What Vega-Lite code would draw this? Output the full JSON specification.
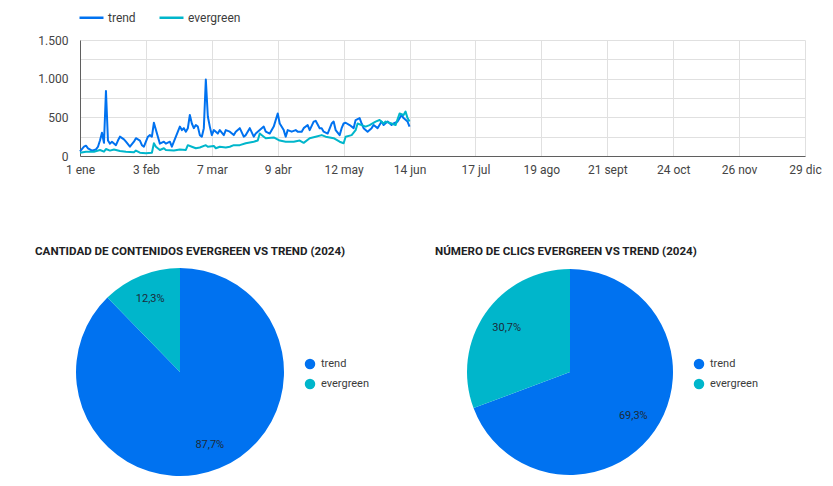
{
  "$schema": "https://vega.github.io/schema/vega-lite/v6.json",
  "padding": {"left": 35, "top": 4, "right": 5, "bottom": 5},
  "background": "white",
  "config": {
    "font": "Roboto",
    "view": {"stroke": null},
    "locale": {
      "number": {"decimal": ",", "thousands": ".", "grouping": [3], "currency": ["", " €"]},
      "time": {
        "dateTime": "%A, %e de %B de %Y, %X",
        "date": "%d/%m/%Y",
        "time": "%H:%M:%S",
        "periods": ["AM", "PM"],
        "days": ["domingo", "lunes", "martes", "miércoles", "jueves", "viernes", "sábado"],
        "shortDays": ["dom", "lun", "mar", "mié", "jue", "vie", "sáb"],
        "months": ["enero", "febrero", "marzo", "abril", "mayo", "junio", "julio", "agosto", "septiembre", "octubre", "noviembre", "diciembre"],
        "shortMonths": ["ene", "feb", "mar", "abr", "may", "jun", "jul", "ago", "sept", "oct", "nov", "dic"]
      }
    },
    "axis": {
      "labelFont": "Roboto",
      "labelFontSize": 12,
      "labelColor": "#444444",
      "gridColor": "#e0e0e0",
      "domainColor": "#5f5f5f",
      "ticks": false,
      "title": null
    },
    "legend": {"labelFont": "Roboto", "labelFontSize": 12, "labelColor": "#3c3c3c", "title": null},
    "title": {"font": "Roboto", "fontSize": 11.6, "fontWeight": "bold", "color": "#202124", "anchor": "start"}
  },
  "datasets": {
    "lineas": [
      {"fecha": "2024-01-01", "serie": "trend", "valor": 60},
      {"fecha": "2024-01-03", "serie": "trend", "valor": 120},
      {"fecha": "2024-01-04", "serie": "trend", "valor": 133},
      {"fecha": "2024-01-05", "serie": "trend", "valor": 100},
      {"fecha": "2024-01-07", "serie": "trend", "valor": 70},
      {"fecha": "2024-01-09", "serie": "trend", "valor": 85},
      {"fecha": "2024-01-10", "serie": "trend", "valor": 120},
      {"fecha": "2024-01-11", "serie": "trend", "valor": 200},
      {"fecha": "2024-01-12", "serie": "trend", "valor": 300},
      {"fecha": "2024-01-13", "serie": "trend", "valor": 170},
      {"fecha": "2024-01-14", "serie": "trend", "valor": 840},
      {"fecha": "2024-01-15", "serie": "trend", "valor": 200},
      {"fecha": "2024-01-16", "serie": "trend", "valor": 160},
      {"fecha": "2024-01-17", "serie": "trend", "valor": 185},
      {"fecha": "2024-01-19", "serie": "trend", "valor": 140},
      {"fecha": "2024-01-20", "serie": "trend", "valor": 200},
      {"fecha": "2024-01-21", "serie": "trend", "valor": 250},
      {"fecha": "2024-01-23", "serie": "trend", "valor": 215},
      {"fecha": "2024-01-24", "serie": "trend", "valor": 185},
      {"fecha": "2024-01-26", "serie": "trend", "valor": 120},
      {"fecha": "2024-01-28", "serie": "trend", "valor": 185},
      {"fecha": "2024-01-29", "serie": "trend", "valor": 230},
      {"fecha": "2024-01-31", "serie": "trend", "valor": 200},
      {"fecha": "2024-02-01", "serie": "trend", "valor": 140},
      {"fecha": "2024-02-02", "serie": "trend", "valor": 120},
      {"fecha": "2024-02-04", "serie": "trend", "valor": 250},
      {"fecha": "2024-02-05", "serie": "trend", "valor": 270},
      {"fecha": "2024-02-06", "serie": "trend", "valor": 250},
      {"fecha": "2024-02-07", "serie": "trend", "valor": 430},
      {"fecha": "2024-02-09", "serie": "trend", "valor": 250},
      {"fecha": "2024-02-10", "serie": "trend", "valor": 160},
      {"fecha": "2024-02-12", "serie": "trend", "valor": 185},
      {"fecha": "2024-02-13", "serie": "trend", "valor": 160},
      {"fecha": "2024-02-15", "serie": "trend", "valor": 185},
      {"fecha": "2024-02-16", "serie": "trend", "valor": 120},
      {"fecha": "2024-02-17", "serie": "trend", "valor": 185},
      {"fecha": "2024-02-19", "serie": "trend", "valor": 315},
      {"fecha": "2024-02-20", "serie": "trend", "valor": 380},
      {"fecha": "2024-02-21", "serie": "trend", "valor": 335},
      {"fecha": "2024-02-22", "serie": "trend", "valor": 360},
      {"fecha": "2024-02-23", "serie": "trend", "valor": 315},
      {"fecha": "2024-02-24", "serie": "trend", "valor": 360},
      {"fecha": "2024-02-25", "serie": "trend", "valor": 530},
      {"fecha": "2024-02-26", "serie": "trend", "valor": 420},
      {"fecha": "2024-02-27", "serie": "trend", "valor": 360},
      {"fecha": "2024-02-28", "serie": "trend", "valor": 400},
      {"fecha": "2024-02-29", "serie": "trend", "valor": 380},
      {"fecha": "2024-03-01", "serie": "trend", "valor": 270},
      {"fecha": "2024-03-02", "serie": "trend", "valor": 250},
      {"fecha": "2024-03-03", "serie": "trend", "valor": 360},
      {"fecha": "2024-03-04", "serie": "trend", "valor": 990},
      {"fecha": "2024-03-05", "serie": "trend", "valor": 510},
      {"fecha": "2024-03-06", "serie": "trend", "valor": 380},
      {"fecha": "2024-03-07", "serie": "trend", "valor": 270},
      {"fecha": "2024-03-08", "serie": "trend", "valor": 335},
      {"fecha": "2024-03-10", "serie": "trend", "valor": 290},
      {"fecha": "2024-03-11", "serie": "trend", "valor": 335},
      {"fecha": "2024-03-13", "serie": "trend", "valor": 270},
      {"fecha": "2024-03-14", "serie": "trend", "valor": 335},
      {"fecha": "2024-03-16", "serie": "trend", "valor": 315},
      {"fecha": "2024-03-18", "serie": "trend", "valor": 270},
      {"fecha": "2024-03-19", "serie": "trend", "valor": 315},
      {"fecha": "2024-03-21", "serie": "trend", "valor": 360},
      {"fecha": "2024-03-23", "serie": "trend", "valor": 250},
      {"fecha": "2024-03-24", "serie": "trend", "valor": 270},
      {"fecha": "2024-03-26", "serie": "trend", "valor": 360},
      {"fecha": "2024-03-28", "serie": "trend", "valor": 250},
      {"fecha": "2024-03-29", "serie": "trend", "valor": 290},
      {"fecha": "2024-03-31", "serie": "trend", "valor": 335},
      {"fecha": "2024-04-02", "serie": "trend", "valor": 380},
      {"fecha": "2024-04-03", "serie": "trend", "valor": 315},
      {"fecha": "2024-04-05", "serie": "trend", "valor": 290},
      {"fecha": "2024-04-07", "serie": "trend", "valor": 380},
      {"fecha": "2024-04-09", "serie": "trend", "valor": 550},
      {"fecha": "2024-04-10", "serie": "trend", "valor": 420},
      {"fecha": "2024-04-12", "serie": "trend", "valor": 335},
      {"fecha": "2024-04-13", "serie": "trend", "valor": 250},
      {"fecha": "2024-04-14", "serie": "trend", "valor": 335},
      {"fecha": "2024-04-16", "serie": "trend", "valor": 315},
      {"fecha": "2024-04-18", "serie": "trend", "valor": 335},
      {"fecha": "2024-04-19", "serie": "trend", "valor": 315},
      {"fecha": "2024-04-21", "serie": "trend", "valor": 315},
      {"fecha": "2024-04-22", "serie": "trend", "valor": 360},
      {"fecha": "2024-04-24", "serie": "trend", "valor": 400},
      {"fecha": "2024-04-25", "serie": "trend", "valor": 335},
      {"fecha": "2024-04-27", "serie": "trend", "valor": 445},
      {"fecha": "2024-04-28", "serie": "trend", "valor": 455},
      {"fecha": "2024-04-30", "serie": "trend", "valor": 360},
      {"fecha": "2024-05-01", "serie": "trend", "valor": 360},
      {"fecha": "2024-05-02", "serie": "trend", "valor": 315},
      {"fecha": "2024-05-04", "serie": "trend", "valor": 290},
      {"fecha": "2024-05-06", "serie": "trend", "valor": 420},
      {"fecha": "2024-05-07", "serie": "trend", "valor": 445},
      {"fecha": "2024-05-08", "serie": "trend", "valor": 335},
      {"fecha": "2024-05-10", "serie": "trend", "valor": 270},
      {"fecha": "2024-05-11", "serie": "trend", "valor": 360},
      {"fecha": "2024-05-12", "serie": "trend", "valor": 420},
      {"fecha": "2024-05-13", "serie": "trend", "valor": 430},
      {"fecha": "2024-05-15", "serie": "trend", "valor": 400},
      {"fecha": "2024-05-17", "serie": "trend", "valor": 360},
      {"fecha": "2024-05-18", "serie": "trend", "valor": 465},
      {"fecha": "2024-05-20", "serie": "trend", "valor": 490},
      {"fecha": "2024-05-21", "serie": "trend", "valor": 420},
      {"fecha": "2024-05-22", "serie": "trend", "valor": 360},
      {"fecha": "2024-05-24", "serie": "trend", "valor": 315},
      {"fecha": "2024-05-26", "serie": "trend", "valor": 360},
      {"fecha": "2024-05-27", "serie": "trend", "valor": 400},
      {"fecha": "2024-05-29", "serie": "trend", "valor": 360},
      {"fecha": "2024-05-31", "serie": "trend", "valor": 445},
      {"fecha": "2024-06-01", "serie": "trend", "valor": 400},
      {"fecha": "2024-06-03", "serie": "trend", "valor": 445},
      {"fecha": "2024-06-05", "serie": "trend", "valor": 400},
      {"fecha": "2024-06-06", "serie": "trend", "valor": 420},
      {"fecha": "2024-06-08", "serie": "trend", "valor": 445},
      {"fecha": "2024-06-10", "serie": "trend", "valor": 530},
      {"fecha": "2024-06-11", "serie": "trend", "valor": 490},
      {"fecha": "2024-06-13", "serie": "trend", "valor": 445},
      {"fecha": "2024-06-14", "serie": "trend", "valor": 380},
      {"fecha": "2024-01-01", "serie": "evergreen", "valor": 43},
      {"fecha": "2024-01-04", "serie": "evergreen", "valor": 56},
      {"fecha": "2024-01-08", "serie": "evergreen", "valor": 56},
      {"fecha": "2024-01-11", "serie": "evergreen", "valor": 78},
      {"fecha": "2024-01-13", "serie": "evergreen", "valor": 56},
      {"fecha": "2024-01-14", "serie": "evergreen", "valor": 90},
      {"fecha": "2024-01-16", "serie": "evergreen", "valor": 70},
      {"fecha": "2024-01-18", "serie": "evergreen", "valor": 85},
      {"fecha": "2024-01-21", "serie": "evergreen", "valor": 65},
      {"fecha": "2024-01-24", "serie": "evergreen", "valor": 56},
      {"fecha": "2024-01-28", "serie": "evergreen", "valor": 47},
      {"fecha": "2024-01-29", "serie": "evergreen", "valor": 70},
      {"fecha": "2024-01-31", "serie": "evergreen", "valor": 43},
      {"fecha": "2024-02-03", "serie": "evergreen", "valor": 35},
      {"fecha": "2024-02-06", "serie": "evergreen", "valor": 43},
      {"fecha": "2024-02-07", "serie": "evergreen", "valor": 165},
      {"fecha": "2024-02-08", "serie": "evergreen", "valor": 120},
      {"fecha": "2024-02-10", "serie": "evergreen", "valor": 78},
      {"fecha": "2024-02-12", "serie": "evergreen", "valor": 100},
      {"fecha": "2024-02-13", "serie": "evergreen", "valor": 78},
      {"fecha": "2024-02-17", "serie": "evergreen", "valor": 70},
      {"fecha": "2024-02-20", "serie": "evergreen", "valor": 85},
      {"fecha": "2024-02-23", "serie": "evergreen", "valor": 78},
      {"fecha": "2024-02-24", "serie": "evergreen", "valor": 140},
      {"fecha": "2024-02-26", "serie": "evergreen", "valor": 120},
      {"fecha": "2024-02-28", "serie": "evergreen", "valor": 100},
      {"fecha": "2024-03-01", "serie": "evergreen", "valor": 110},
      {"fecha": "2024-03-04", "serie": "evergreen", "valor": 140},
      {"fecha": "2024-03-05", "serie": "evergreen", "valor": 120},
      {"fecha": "2024-03-08", "serie": "evergreen", "valor": 130},
      {"fecha": "2024-03-09", "serie": "evergreen", "valor": 100},
      {"fecha": "2024-03-11", "serie": "evergreen", "valor": 120},
      {"fecha": "2024-03-14", "serie": "evergreen", "valor": 110},
      {"fecha": "2024-03-16", "serie": "evergreen", "valor": 120},
      {"fecha": "2024-03-18", "serie": "evergreen", "valor": 140},
      {"fecha": "2024-03-21", "serie": "evergreen", "valor": 140},
      {"fecha": "2024-03-24", "serie": "evergreen", "valor": 165},
      {"fecha": "2024-03-28", "serie": "evergreen", "valor": 185},
      {"fecha": "2024-03-30", "serie": "evergreen", "valor": 200},
      {"fecha": "2024-03-31", "serie": "evergreen", "valor": 290},
      {"fecha": "2024-04-02", "serie": "evergreen", "valor": 250},
      {"fecha": "2024-04-03", "serie": "evergreen", "valor": 230},
      {"fecha": "2024-04-07", "serie": "evergreen", "valor": 240},
      {"fecha": "2024-04-10", "serie": "evergreen", "valor": 200},
      {"fecha": "2024-04-13", "serie": "evergreen", "valor": 185},
      {"fecha": "2024-04-17", "serie": "evergreen", "valor": 185},
      {"fecha": "2024-04-20", "serie": "evergreen", "valor": 200},
      {"fecha": "2024-04-22", "serie": "evergreen", "valor": 170},
      {"fecha": "2024-04-25", "serie": "evergreen", "valor": 230},
      {"fecha": "2024-04-28", "serie": "evergreen", "valor": 250},
      {"fecha": "2024-05-01", "serie": "evergreen", "valor": 270},
      {"fecha": "2024-05-03", "serie": "evergreen", "valor": 250},
      {"fecha": "2024-05-07", "serie": "evergreen", "valor": 230},
      {"fecha": "2024-05-10", "serie": "evergreen", "valor": 185},
      {"fecha": "2024-05-12", "serie": "evergreen", "valor": 165},
      {"fecha": "2024-05-13", "serie": "evergreen", "valor": 250},
      {"fecha": "2024-05-16", "serie": "evergreen", "valor": 270},
      {"fecha": "2024-05-18", "serie": "evergreen", "valor": 335},
      {"fecha": "2024-05-19", "serie": "evergreen", "valor": 420},
      {"fecha": "2024-05-21", "serie": "evergreen", "valor": 400},
      {"fecha": "2024-05-23", "serie": "evergreen", "valor": 380},
      {"fecha": "2024-05-25", "serie": "evergreen", "valor": 400},
      {"fecha": "2024-05-28", "serie": "evergreen", "valor": 445},
      {"fecha": "2024-05-30", "serie": "evergreen", "valor": 465},
      {"fecha": "2024-06-01", "serie": "evergreen", "valor": 420},
      {"fecha": "2024-06-02", "serie": "evergreen", "valor": 445},
      {"fecha": "2024-06-05", "serie": "evergreen", "valor": 420},
      {"fecha": "2024-06-07", "serie": "evergreen", "valor": 400},
      {"fecha": "2024-06-09", "serie": "evergreen", "valor": 550},
      {"fecha": "2024-06-11", "serie": "evergreen", "valor": 530},
      {"fecha": "2024-06-12", "serie": "evergreen", "valor": 575},
      {"fecha": "2024-06-13", "serie": "evergreen", "valor": 490},
      {"fecha": "2024-06-14", "serie": "evergreen", "valor": 445}
    ],
    "contenidos": [
      {"serie": "trend", "pct": 0.877},
      {"serie": "evergreen", "pct": 0.123}
    ],
    "clics": [
      {"serie": "trend", "pct": 0.693},
      {"serie": "evergreen", "pct": 0.307}
    ]
  },
  "bounds": "flush",
  "spacing": 112,
  "resolve": {"scale": {"color": "independent"}, "legend": {"color": "independent"}},
  "vconcat": [
    {
      "width": 725,
      "height": 116,
      "data": {"name": "lineas"},
      "mark": {"type": "line", "strokeWidth": 2, "strokeJoin": "round"},
      "encoding": {
        "x": {
          "field": "fecha",
          "type": "temporal",
          "scale": {
            "type": "utc",
            "domain": [
              {"year": 2024, "month": 1, "date": 1, "utc": true},
              {"year": 2024, "month": 12, "date": 29, "utc": true}
            ]
          },
          "axis": {
            "values": [
              {"year": 2024, "month": 1, "date": 1, "utc": true},
              {"year": 2024, "month": 2, "date": 3, "utc": true},
              {"year": 2024, "month": 3, "date": 7, "utc": true},
              {"year": 2024, "month": 4, "date": 9, "utc": true},
              {"year": 2024, "month": 5, "date": 12, "utc": true},
              {"year": 2024, "month": 6, "date": 14, "utc": true},
              {"year": 2024, "month": 7, "date": 17, "utc": true},
              {"year": 2024, "month": 8, "date": 19, "utc": true},
              {"year": 2024, "month": 9, "date": 21, "utc": true},
              {"year": 2024, "month": 10, "date": 24, "utc": true},
              {"year": 2024, "month": 11, "date": 26, "utc": true},
              {"year": 2024, "month": 12, "date": 29, "utc": true}
            ],
            "labelExpr": "utcFormat(datum.value, '%-d %b')",
            "labelPadding": 8,
            "labelFlush": false,
            "labelOverlap": false
          }
        },
        "y": {
          "field": "valor",
          "type": "quantitative",
          "scale": {"domain": [0, 1500], "nice": false},
          "axis": {
            "values": [0, 250, 500, 750, 1000, 1250, 1500],
            "format": ",.0f",
            "labelExpr": "datum.value % 500 === 0 ? datum.label : ''",
            "labelPadding": 12,
            "domain": true
          }
        },
        "color": {
          "field": "serie",
          "type": "nominal",
          "scale": {"domain": ["trend", "evergreen"], "range": ["#0072f0", "#00b6cb"]},
          "legend": {
            "orient": "none",
            "direction": "horizontal",
            "legendX": -2,
            "legendY": -36,
            "symbolType": "stroke",
            "symbolSize": 576,
            "symbolStrokeWidth": 2.5,
            "labelOffset": 3,
            "columnPadding": 18
          }
        }
      }
    },
    {
      "bounds": "flush",
      "spacing": 190,
      "resolve": {"scale": {"color": "independent"}, "legend": {"color": "independent"}},
      "hconcat": [
        {
          "width": 200,
          "height": 208,
          "title": {"text": "CANTIDAD DE CONTENIDOS EVERGREEN VS TREND (2024)", "dx": -41, "offset": 10},
          "data": {"name": "contenidos"},
          "encoding": {
            "theta": {"field": "pct", "type": "quantitative", "stack": true},
            "order": {"field": "serie", "sort": "descending"}
          },
          "layer": [
            {
              "mark": {"type": "arc", "radius": 104},
              "encoding": {
                "color": {
                  "field": "serie",
                  "type": "nominal",
                  "scale": {"domain": ["trend", "evergreen"], "range": ["#0072f0", "#00b6cb"]},
                  "legend": {
                    "orient": "none",
                    "legendX": 224,
                    "legendY": 90,
                    "symbolType": "circle",
                    "symbolSize": 110,
                    "labelFontSize": 11,
                    "rowPadding": 8,
                    "labelOffset": 5
                  }
                }
              }
            },
            {
              "mark": {"type": "text", "radius": 79, "fontSize": 11, "color": "#1c2b3a"},
              "encoding": {"text": {"field": "pct", "type": "quantitative", "format": ".1%"}}
            }
          ]
        },
        {
          "width": 200,
          "height": 208,
          "title": {"text": "NÚMERO DE CLICS EVERGREEN VS TREND (2024)", "dx": -32, "offset": 10},
          "data": {"name": "clics"},
          "encoding": {
            "theta": {"field": "pct", "type": "quantitative", "stack": true},
            "order": {"field": "serie", "sort": "descending"}
          },
          "layer": [
            {
              "mark": {"type": "arc", "radius": 103},
              "encoding": {
                "color": {
                  "field": "serie",
                  "type": "nominal",
                  "scale": {"domain": ["trend", "evergreen"], "range": ["#0072f0", "#00b6cb"]},
                  "legend": {
                    "orient": "none",
                    "legendX": 223,
                    "legendY": 90,
                    "symbolType": "circle",
                    "symbolSize": 110,
                    "labelFontSize": 11,
                    "rowPadding": 8,
                    "labelOffset": 5
                  }
                }
              }
            },
            {
              "mark": {"type": "text", "radius": 77, "fontSize": 11, "color": "#1c2b3a"},
              "encoding": {"text": {"field": "pct", "type": "quantitative", "format": ".1%"}}
            }
          ]
        }
      ]
    }
  ]
}
